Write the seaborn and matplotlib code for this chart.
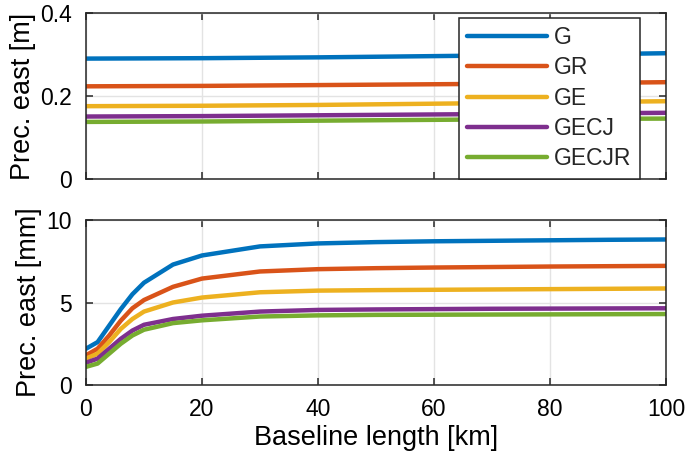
import numpy as np
import pandas as pd
import matplotlib
matplotlib.use("Agg")
import matplotlib.pyplot as plt
import seaborn as sns

# ---- data ----
series = ["G", "GR", "GE", "GECJ", "GECJR"]
colors = ["#0072BD", "#D95319", "#EDB120", "#7E2F8E", "#77AC30"]

# top panel (metres)
top_x = [0, 20, 40, 60, 80, 100]
top_G = [0.291, 0.292, 0.294, 0.297, 0.300, 0.304]
top_GR = [0.224, 0.225, 0.227, 0.229, 0.231, 0.234]
top_GE = [0.176, 0.177, 0.179, 0.182, 0.185, 0.188]
top_GECJ = [0.151, 0.152, 0.154, 0.156, 0.158, 0.160]
top_GECJR = [0.138, 0.139, 0.141, 0.143, 0.145, 0.146]

# bottom panel (millimetres)
bot_x = [0, 2, 4, 6, 8, 10, 15, 20, 30, 40, 50, 60, 70, 80, 90, 100]
bot_G = [2.2, 2.6, 3.6, 4.6, 5.5, 6.2, 7.3, 7.85, 8.4, 8.58, 8.66, 8.71, 8.74, 8.77, 8.8, 8.82]
bot_GR = [1.8, 2.2, 3.0, 3.9, 4.65, 5.15, 5.95, 6.45, 6.88, 7.02, 7.08, 7.12, 7.15, 7.18, 7.2, 7.22]
bot_GE = [1.6, 1.9, 2.6, 3.4, 4.0, 4.45, 5.0, 5.3, 5.62, 5.72, 5.75, 5.77, 5.79, 5.81, 5.83, 5.85]
bot_GECJ = [1.35, 1.6, 2.2, 2.8, 3.3, 3.65, 4.0, 4.2, 4.45, 4.55, 4.58, 4.6, 4.62, 4.63, 4.64, 4.65]
bot_GECJR = [1.1, 1.3, 1.9, 2.5, 3.0, 3.35, 3.75, 3.92, 4.15, 4.22, 4.25, 4.26, 4.27, 4.28, 4.29, 4.3]

top_vals = [top_G, top_GR, top_GE, top_GECJ, top_GECJR]
bot_vals = [bot_G, bot_GR, bot_GE, bot_GECJ, bot_GECJR]

top_df = pd.concat([pd.DataFrame({"x": top_x, "y": v, "s": s}) for s, v in zip(series, top_vals)])
bot_df = pd.concat([pd.DataFrame({"x": bot_x, "y": v, "s": s}) for s, v in zip(series, bot_vals)])

# ---- style ----
sns.set_theme(style="white")
plt.rcParams["font.family"] = ["Liberation Sans", "DejaVu Sans"]
edge = "#262626"
grid_c = "#e3e3e3"

fig = plt.figure(figsize=(6.85, 4.61), dpi=100)
ax1 = fig.add_axes([86 / 685, (461 - 179) / 461, 580 / 685, 165.5 / 461])
ax2 = fig.add_axes([86 / 685, (461 - 385) / 461, 580 / 685, 165 / 461])

pal = dict(zip(series, colors))
sns.lineplot(data=top_df, x="x", y="y", hue="s", palette=pal, linewidth=3.2, ax=ax1, legend=True)
sns.lineplot(data=bot_df, x="x", y="y", hue="s", palette=pal, linewidth=3.2, ax=ax2, legend=False)

tick_fs = 16.5
label_fs = 19.5

for ax in (ax1, ax2):
    ax.set_xlim(0, 100)
    ax.set_xticks([0, 20, 40, 60, 80, 100])
    ax.grid(True, color=grid_c, linewidth=1.0)
    ax.set_axisbelow(True)
    for sp in ax.spines.values():
        sp.set_visible(True)
        sp.set_color(edge)
        sp.set_linewidth(1.1)
    ax.tick_params(direction="in", length=5, width=1.1, color=edge, labelsize=tick_fs,
                   labelcolor="black", top=True, right=True, bottom=True, left=True)
    ax.tick_params(axis="y", pad=10)
    ax.tick_params(axis="x", pad=9)

ax1.set_ylim(0, 0.4)
ax1.set_yticks([0, 0.2, 0.4])
ax1.set_yticklabels(["0", "0.2", "0.4"])
ax1.set_xticklabels([])
ax1.set_xlabel("")
ax1.set_ylabel("Prec. east [m]", fontsize=label_fs, color="black", labelpad=3)

ax2.set_ylim(0, 10)
ax2.set_yticks([0, 5, 10])
ax2.set_yticklabels(["0", "5", "10"])
ax2.set_xticklabels(["0", "20", "40", "60", "80", "100"])
ax2.set_xlabel("Baseline length [km]", fontsize=label_fs, color="black", labelpad=3)
ax2.set_ylabel("Prec. east [mm]", fontsize=label_fs, color="black", labelpad=3)

handles, labels = ax1.get_legend_handles_labels()
leg = ax1.legend(handles, labels, loc="upper left",
                 bbox_to_anchor=((459 - 86) / 580, (179 - 17.7) / 165.5),
                 borderaxespad=0, fontsize=16.5, handlelength=3.5, handletextpad=0.3,
                 labelspacing=0.32, borderpad=0.36, fancybox=False, framealpha=1,
                 edgecolor=edge)
leg.get_frame().set_linewidth(1.1)
for line in leg.get_lines():
    line.set_linewidth(3.2)

fig.savefig("out.png", dpi=100)
